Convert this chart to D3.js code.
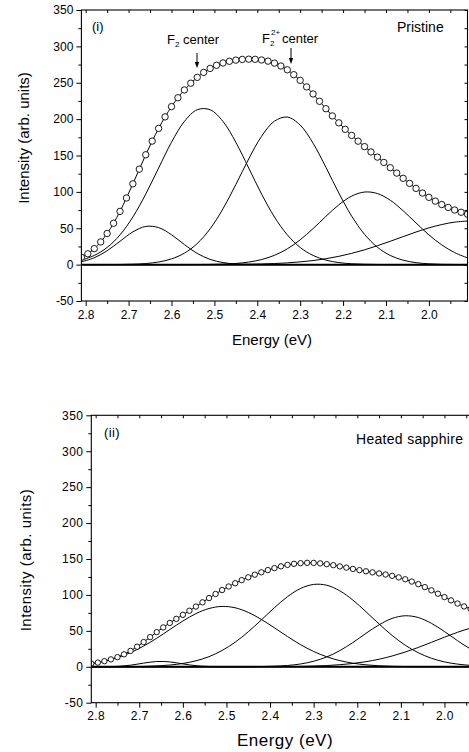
<!DOCTYPE html>
<html><head><meta charset="utf-8">
<script src="https://cdn.jsdelivr.net/npm/d3@7"></script>
<style>
body{margin:0;background:#fff}
svg{display:block}
text{font-family:"Liberation Sans",Arial,sans-serif;fill:#000}
</style>
</head><body>
<svg id="c" width="469" height="752"></svg>
<script>
// ---------- DATA ----------
const xMajorTicks = [2.8, 2.7, 2.6, 2.5, 2.4, 2.3, 2.2, 2.1, 2.0];
const xMinorTicks = [2.75, 2.65, 2.55, 2.45, 2.35, 2.25, 2.15, 2.05, 1.95];
const xTopTicks = [2.8, 2.75, 2.7, 2.65, 2.6, 2.55, 2.5, 2.45, 2.4, 2.35, 2.3, 2.25, 2.2, 2.15, 2.1, 2.05, 2.0, 1.95];
const yMajorTicks = [-50, 0, 50, 100, 150, 200, 250, 300, 350];
const yMinorTicks = [-25, 25, 75, 125, 175, 225, 275, 325];

// energies of measured points (eV)
const measuredEnergy = [2.81, 2.795, 2.78, 2.765, 2.75, 2.735, 2.72, 2.705, 2.69, 2.675, 2.66, 2.645, 2.63, 2.615, 2.6, 2.585, 2.57, 2.555, 2.54, 2.525, 2.51, 2.495, 2.48, 2.465, 2.45, 2.435, 2.42, 2.405, 2.39, 2.375, 2.36, 2.345, 2.33, 2.315, 2.3, 2.285, 2.27, 2.255, 2.24, 2.225, 2.21, 2.195, 2.18, 2.165, 2.15, 2.135, 2.12, 2.105, 2.09, 2.075, 2.06, 2.045, 2.03, 2.015, 2.0, 1.985, 1.97, 1.955, 1.94, 1.925, 1.91];
// energies of fitted component curves (eV)
const fitEnergy = [2.81, 2.78, 2.75, 2.72, 2.69, 2.66, 2.63, 2.60, 2.57, 2.54, 2.51, 2.48, 2.45, 2.42, 2.39, 2.36, 2.33, 2.30, 2.27, 2.24, 2.21, 2.18, 2.15, 2.12, 2.09, 2.06, 2.03, 2.00, 1.97, 1.94, 1.91];

// (i) Pristine
const pristineMeasured = [10.1, 14.9, 22.0, 31.2, 42.8, 56.9, 73.2, 91.6, 111.1, 131.2, 151.0, 169.8, 187.3, 203.1, 217.2, 229.4, 240.1, 249.4, 257.4, 264.2, 269.7, 274.0, 277.2, 279.5, 281.1, 282.1, 282.4, 282.2, 281.3, 279.7, 277.0, 273.0, 267.8, 261.1, 253.3, 244.3, 234.6, 224.5, 214.3, 204.4, 194.9, 186.0, 177.6, 169.7, 162.2, 154.9, 147.8, 140.5, 133.2, 125.8, 118.6, 111.6, 104.8, 98.4, 92.5, 87.3, 82.6, 78.6, 75.1, 72.0, 69.3];
const pristinePeak1 = [3.9, 9.4, 19.1, 32.1, 45.0, 52.5, 50.9, 41.1, 27.6, 15.4, 7.2, 2.8, 0.9, 0.2, 0, 0, 0, 0, 0, 0, 0, 0, 0, 0, 0, 0, 0, 0, 0, 0, 0];
const pristinePeak2 = [6.2, 12.6, 23.6, 40.9, 65.5, 97.0, 132.8, 168.2, 196.8, 212.9, 212.9, 196.8, 168.2, 132.8, 97.0, 65.5, 40.9, 23.6, 12.6, 6.2, 2.8, 1.2, 0.5, 0.2, 0, 0, 0, 0, 0, 0, 0];
const pristinePeak3 = [0, 0, 0.1, 0.2, 0.6, 1.5, 3.6, 7.9, 15.7, 29.0, 49.2, 76.7, 110.1, 145.3, 176.4, 197.2, 202.8, 191.8, 166.9, 133.7, 98.5, 66.7, 41.6, 23.9, 12.6, 6.1, 2.7, 1.1, 0.4, 0.2, 0.1];
const pristinePeak4 = [0, 0, 0, 0, 0, 0, 0, 0, 0, 0.1, 0.3, 0.7, 1.6, 3.5, 7.0, 12.8, 21.7, 34.1, 49.5, 66.3, 82.2, 94.2, 99.8, 97.7, 88.5, 74.0, 57.3, 40.9, 27.1, 16.5, 9.3];
const pristinePeak5 = [0, 0, 0, 0, 0, 0, 0, 0, 0, 0, 0.1, 0.2, 0.3, 0.6, 0.9, 1.5, 2.4, 3.8, 5.6, 8.1, 11.4, 15.5, 20.3, 26.0, 32.1, 38.5, 44.8, 50.5, 55.1, 58.4, 59.9];

// (ii) Heated sapphire
const heatedMeasured = [4.4, 5.8, 7.8, 10.3, 13.4, 17.3, 22.1, 27.9, 34.4, 41.3, 48.2, 54.8, 61.0, 66.7, 72.3, 78.0, 83.8, 89.7, 95.6, 101.3, 106.8, 111.7, 116.3, 120.6, 124.5, 128.2, 131.5, 134.6, 137.3, 139.8, 141.8, 143.3, 144.2, 144.7, 144.6, 143.9, 142.8, 141.4, 139.7, 138.0, 136.2, 134.5, 132.9, 131.4, 129.9, 128.4, 126.6, 124.4, 121.8, 118.6, 115.0, 110.9, 106.4, 101.7, 97.0, 92.4, 88.0, 84.0, 80.3, 77.0, 74.1];
const heatedPeak1 = [0, 0.1, 0.6, 2.2, 5.1, 7.3, 6.8, 4.0, 1.5, 0.4, 0.1, 0, 0, 0, 0, 0, 0, 0, 0, 0, 0, 0, 0, 0, 0, 0, 0, 0, 0, 0, 0];
const heatedPeak2 = [4.4, 7.7, 12.7, 19.7, 28.8, 39.7, 51.8, 63.7, 74.0, 81.1, 84.0, 82.1, 75.7, 65.9, 54.2, 42.1, 30.8, 21.3, 13.9, 8.6, 5.0, 2.7, 1.4, 0.7, 0.3, 0.1, 0, 0, 0, 0, 0];
const heatedPeak3 = [0, 0, 0.1, 0.2, 0.5, 1.2, 2.4, 4.6, 8.3, 14.1, 22.7, 34.2, 48.7, 65.2, 82.2, 97.6, 109.0, 114.6, 113.5, 105.7, 92.8, 76.6, 59.6, 43.6, 30.0, 19.5, 11.9, 6.8, 3.7, 1.9, 0.9];
const heatedPeak4 = [0, 0, 0, 0, 0, 0, 0, 0, 0, 0, 0, 0, 0.1, 0.3, 0.8, 1.8, 3.9, 7.7, 13.7, 22.5, 33.8, 46.5, 58.4, 67.3, 71.0, 68.5, 60.5, 49.0, 36.3, 24.6, 15.3];
const heatedPeak5 = [0, 0, 0, 0, 0, 0, 0, 0, 0, 0, 0, 0, 0, 0.1, 0.1, 0.3, 0.5, 1.0, 1.7, 2.9, 4.6, 7.1, 10.5, 15.0, 20.5, 26.9, 34.0, 41.2, 48.0, 53.8, 57.9];

// ---------- DRAW ----------
const svg = d3.select('#c');
const FONT = '"Liberation Sans",Arial,sans-serif';

function drawPanel(o) {
  const x = d3.scaleLinear().domain([2.81, 1.91]).range([o.left, o.right]);
  const y = d3.scaleLinear().domain([-50, 350]).range([o.bottom, o.top]);
  const g = svg.append('g');

  const clipId = 'clip' + o.id;
  svg.append('clipPath').attr('id', clipId).append('rect')
    .attr('x', o.left).attr('y', o.top).attr('width', o.right - o.left).attr('height', o.bottom - o.top);
  const plot = g.append('g').attr('clip-path', `url(#${clipId})`);

  const fitLine = d3.line().x((d, i) => x(fitEnergy[i])).y(d => y(d)).curve(d3.curveCatmullRom);
  // zero baseline (thick)
  plot.append('path')
    .attr('d', d3.line()([[x(fitEnergy[0]), y(0)], [x(fitEnergy[fitEnergy.length - 1]), y(0)]]))
    .attr('stroke', '#000').attr('stroke-width', 2).attr('fill', 'none');
  o.peaks.forEach(p => {
    plot.append('path').attr('d', fitLine(p)).attr('fill', 'none')
      .attr('stroke', '#000').attr('stroke-width', 1);
  });
  // cumulative line through measured points
  const mLine = d3.line().x((d, i) => x(measuredEnergy[i])).y(d => y(d)).curve(d3.curveCatmullRom);
  plot.append('path').attr('d', mLine(o.measured)).attr('fill', 'none')
    .attr('stroke', '#000').attr('stroke-width', 1);
  plot.selectAll('circle.m').data(o.measured).enter().append('circle')
    .attr('cx', (d, i) => x(measuredEnergy[i])).attr('cy', d => y(d)).attr('r', o.r)
    .attr('fill', '#fff').attr('stroke', '#000').attr('stroke-width', 0.9);

  // axes
  const styleAxis = sel => {
    sel.select('.domain').remove();
    sel.selectAll('line').attr('stroke', '#000');
    sel.attr('font-family', FONT).attr('font-size', o.tickFont);
    sel.selectAll('text').attr('fill', '#000').style('letter-spacing', o.tickSpacing + 'px');
  };
  g.append('g').attr('transform', `translate(0,${o.bottom})`)
    .call(d3.axisBottom(x).tickValues(xMajorTicks).tickFormat(d3.format('.1f')).tickSize(5).tickPadding(4))
    .call(styleAxis);
  g.append('g').attr('transform', `translate(0,${o.bottom})`)
    .call(d3.axisBottom(x).tickValues(xMinorTicks).tickFormat('').tickSize(3))
    .call(styleAxis);
  g.append('g').attr('transform', `translate(0,${o.top})`)
    .call(d3.axisTop(x).tickValues(xTopTicks).tickFormat('').tickSize(-3))
    .call(styleAxis);
  g.append('g').attr('transform', `translate(${o.left},0)`)
    .call(d3.axisLeft(y).tickValues(yMajorTicks).tickFormat(d => String(d)).tickSize(5).tickPadding(3))
    .call(styleAxis);
  g.append('g').attr('transform', `translate(${o.left},0)`)
    .call(d3.axisLeft(y).tickValues(yMinorTicks).tickFormat('').tickSize(3))
    .call(styleAxis);
  g.append('g').attr('transform', `translate(${o.right},0)`)
    .call(d3.axisRight(y).tickValues(yMajorTicks.concat(yMinorTicks)).tickFormat('').tickSize(-3))
    .call(styleAxis);

  g.append('rect').attr('x', o.left).attr('y', o.top)
    .attr('width', o.right - o.left).attr('height', o.bottom - o.top)
    .attr('fill', 'none').attr('stroke', '#000').attr('stroke-width', 1.1);

  // titles
  g.append('text').attr('x', o.xTitle[0]).attr('y', o.xTitle[1]).attr('text-anchor', 'middle')
    .attr('font-size', o.titleFont).style('letter-spacing', o.titleSpacing + 'px').text('Energy (eV)');
  g.append('text').attr('transform', `translate(${o.yTitle[0]},${o.yTitle[1]}) rotate(-90)`)
    .attr('text-anchor', 'middle').attr('font-size', o.yTitleFont).style('letter-spacing', o.titleSpacing + 'px')
    .text('Intensity (arb. units)');
  return g;
}

const g1 = drawPanel({
  id: 1, left: 81.4, right: 467.5, top: 10, bottom: 301,
  peaks: [pristinePeak1, pristinePeak2, pristinePeak3, pristinePeak4, pristinePeak5],
  measured: pristineMeasured, r: 3.2, tickFont: 12, tickSpacing: 0,
  xTitle: [272, 345], yTitle: [29, 138], titleFont: 15, yTitleFont: 15, titleSpacing: 0
});
g1.append('text').attr('x', 92).attr('y', 31).attr('font-size', 13).text('(i)');
g1.append('text').attr('x', 397).attr('y', 32).attr('font-size', 14).text('Pristine');
// F2 center label
const t1 = g1.append('text').attr('x', 167).attr('y', 44).attr('font-size', 13);
t1.append('tspan').text('F');
t1.append('tspan').attr('font-size', 8).attr('dy', 3).text('2');
t1.append('tspan').attr('dy', -3).text(' center');
// F2 2+ center label
g1.append('text').attr('x', 262).attr('y', 43).attr('font-size', 13).text('F');
g1.append('text').attr('x', 270).attr('y', 46).attr('font-size', 8).text('2');
g1.append('text').attr('x', 271).attr('y', 35).attr('font-size', 8).text('2+');
g1.append('text').attr('x', 282).attr('y', 43).attr('font-size', 13).text('center');
// arrows
[[197, 53, 68], [291, 48, 64]].forEach(a => {
  g1.append('line').attr('x1', a[0]).attr('x2', a[0]).attr('y1', a[1]).attr('y2', a[2] - 4)
    .attr('stroke', '#000').attr('stroke-width', 1);
  g1.append('path').attr('d', `M${a[0] - 2.2},${a[2] - 6} L${a[0] + 2.2},${a[2] - 6} L${a[0]},${a[2]} Z`).attr('fill', '#000');
});

const g2 = drawPanel({
  id: 2, left: 91.3, right: 483.7, top: 415.3, bottom: 702.7,
  peaks: [heatedPeak1, heatedPeak2, heatedPeak3, heatedPeak4, heatedPeak5],
  measured: heatedMeasured, r: 2.7, tickFont: 12, tickSpacing: 0.4,
  xTitle: [285, 746], yTitle: [31, 560], titleFont: 17, yTitleFont: 15, titleSpacing: 0.5
});
g2.append('text').attr('x', 104).attr('y', 437).attr('font-size', 13).style('letter-spacing', '0.4px').text('(ii)');
g2.append('text').attr('x', 356).attr('y', 444).attr('font-size', 14).style('letter-spacing', '0.3px').text('Heated sapphire');
</script>
</body></html>
